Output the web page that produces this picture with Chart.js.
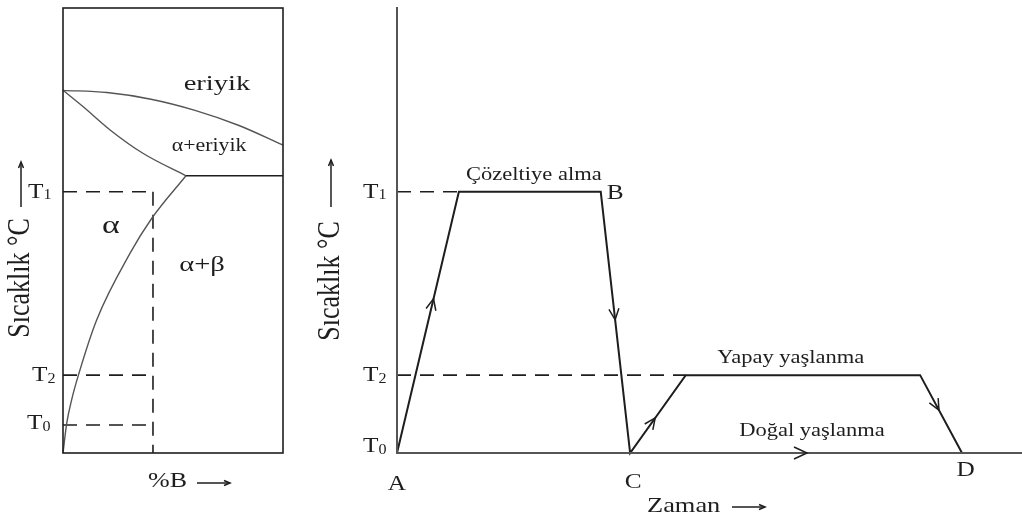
<!DOCTYPE html>
<html>
<head>
<meta charset="utf-8">
<script src="https://cdn.jsdelivr.net/npm/chart.js@4.4.1/dist/chart.umd.min.js"></script>
<style>
body { margin: 0; background: #fff; width: 1022px; height: 519px; overflow: hidden; position: relative; }
canvas { position: absolute; top: 0; }
#faz { left: 0; }
#isil { left: 300px; }
</style>
</head>
<body>
<canvas id="faz" width="300" height="519"></canvas>
<canvas id="isil" width="722" height="519"></canvas>
<script>
// sicaklik seviyeleri (0-100 olcek)
var T1 = 58.7, T2 = 17.5, T0 = 6.3;

// faz diyagrami
var likidus_x = [0, 20, 40, 60, 80, 100];
var likidus_y = [81.5, 81.0, 79.5, 77.0, 73.6, 69.2];
var solidus_x = [0, 9.2, 21.4, 36.5, 55.9];
var solidus_y = [81.5, 77.8, 72.6, 67.3, 62.3];
var solvus_x = [0, 1.7, 3.9, 7.0, 15.3, 30.5, 40.3, 55.9];
var solvus_y = [0, 6.7, 11.9, 17.5, 29.9, 44.9, 52.7, 62.3];
var otektik_x = [55.9, 100];
var otektik_y = [62.3, 62.3];
var alasim_B = 40.9;

var bolge_adlari = ['eriyik', 'α+eriyik', 'α', 'α+β'];
var bolge_x = [70, 66.4, 21.8, 63.2];
var bolge_y = [82.9, 69.0, 51.0, 42.2];

// isil islem
var zaman = [0, 9.9, 32.6, 37.3, 46.2, 83.7, 90.4];
var sicaklik = [0, T1, T1, 0, T2, T2, 0];
var nokta_adlari = ['A', 'B', 'C', 'D'];
var nokta_x = [0, 34.9, 37.8, 91.0];
var nokta_y = [-7.0, 58.4, -6.5, -3.8];
var islem_adlari = ['Çözeltiye alma', 'Yapay yaşlanma', 'Doğal yaşlanma'];
var islem_x = [21.9, 63.0, 66.4];
var islem_y = [62.5, 21.3, 4.9];
var ok_segment = [0, 2, 3, 5];
var ok_oran = [0.59, 0.49, 0.45, 0.45];
var eksen_ok_x = 65.6;

var koyu = '#1e1e1e';

function pts(xs, ys) {
    var r = [];
    for (var i = 0; i < xs.length; i++) r.push({ x: xs[i], y: ys[i] });
    return r;
}

function cizgi(data, renk, kalinlik, kesik, egri) {
    return {
        data: data,
        showLine: true,
        borderColor: renk,
        borderWidth: kalinlik,
        borderDash: kesik || [],
        pointRadius: 0,
        fill: false,
        clip: false,
        cubicInterpolationMode: egri ? 'monotone' : 'default',
        tension: 0
    };
}

function yazi(ctx, txt, x, y, size, sx, align) {
    ctx.save();
    ctx.translate(x, y);
    ctx.scale(sx, 1);
    ctx.font = size + 'px "Liberation Serif"';
    ctx.textAlign = align || 'center';
    ctx.textBaseline = 'middle';
    ctx.fillStyle = koyu;
    ctx.fillText(txt, 0, 0);
    ctx.restore();
}

function tYaz(ctx, alt, x, y, size, sx) {
    ctx.save();
    ctx.font = size + 'px "Liberation Serif"';
    var w = ctx.measureText('T').width * sx;
    ctx.restore();
    yazi(ctx, 'T', x, y, size, sx, 'left');
    yazi(ctx, alt, x + w, y + 4, Math.round(size * 0.62), sx, 'left');
}

function dikBaslik(ctx, txt, x, y, size, sx, okUst, okAlt) {
    ctx.save();
    ctx.translate(x, y);
    ctx.scale(sx, 1);
    ctx.rotate(-Math.PI / 2);
    ctx.font = size + 'px "Liberation Serif"';
    ctx.textAlign = 'center';
    ctx.textBaseline = 'middle';
    ctx.fillStyle = koyu;
    ctx.fillText(txt, 0, 0);
    ctx.restore();
    ctx.save();
    ctx.strokeStyle = koyu;
    ctx.lineWidth = 1.5;
    ctx.beginPath();
    ctx.moveTo(x, okAlt);
    ctx.lineTo(x, okUst);
    ctx.stroke();
    ctx.beginPath();
    ctx.moveTo(x - 2.5, okUst + 6);
    ctx.lineTo(x, okUst);
    ctx.lineTo(x + 2.5, okUst + 6);
    ctx.stroke();
    ctx.restore();
}

function yatayOk(ctx, x1, x2, y) {
    ctx.save();
    ctx.strokeStyle = koyu;
    ctx.lineWidth = 1.5;
    ctx.beginPath();
    ctx.moveTo(x1, y);
    ctx.lineTo(x2, y);
    ctx.stroke();
    ctx.beginPath();
    ctx.moveTo(x2 - 6, y - 2.5);
    ctx.lineTo(x2, y);
    ctx.lineTo(x2 - 6, y + 2.5);
    ctx.stroke();
    ctx.restore();
}

function sevron(ctx, px, py, dx, dy, L, W) {
    var n = Math.sqrt(dx * dx + dy * dy);
    dx /= n; dy /= n;
    ctx.save();
    ctx.strokeStyle = koyu;
    ctx.lineWidth = 1.5;
    ctx.beginPath();
    ctx.moveTo(px - dx * L - dy * W, py - dy * L + dx * W);
    ctx.lineTo(px, py);
    ctx.lineTo(px - dx * L + dy * W, py - dy * L - dx * W);
    ctx.stroke();
    ctx.restore();
}

var olcekler = {
    x: { type: 'linear', min: 0, max: 100, display: false },
    y: { type: 'linear', min: 0, max: 100, display: false }
};

// sol: faz diyagrami
var fazYazilari = {
    id: 'fazYazilari',
    afterDatasetsDraw: function (chart) {
        var ctx = chart.ctx;
        var a = chart.chartArea;
        var sx = chart.scales.x, sy = chart.scales.y;
        ctx.save();
        ctx.strokeStyle = koyu;
        ctx.lineWidth = 1.6;
        ctx.strokeRect(a.left, a.top, a.right - a.left, a.bottom - a.top);
        ctx.restore();
        var boy = [22, 19, 26, 22];
        var gen = [1.3, 1.15, 1.3, 1.3];
        for (var i = 0; i < bolge_adlari.length; i++) {
            yazi(ctx, bolge_adlari[i], sx.getPixelForValue(bolge_x[i]), sy.getPixelForValue(bolge_y[i]), boy[i], gen[i]);
        }
        tYaz(ctx, '1', a.left - 35, sy.getPixelForValue(T1), 22, 1.15);
        tYaz(ctx, '2', a.left - 31, sy.getPixelForValue(T2), 22, 1.15);
        tYaz(ctx, '0', a.left - 36, sy.getPixelForValue(T0) - 2, 22, 1.15);
        dikBaslik(ctx, 'Sıcaklık °C', 21, 278, 26, 1.2, 162, 207);
        yazi(ctx, '%B', 148, 482, 20, 1.3, 'left');
        yatayOk(ctx, 197, 230, 483);
    }
};

new Chart(document.getElementById('faz'), {
    type: 'scatter',
    data: {
        datasets: [
            cizgi(pts(likidus_x, likidus_y), '#555', 1.4, null, true),
            cizgi(pts(solidus_x, solidus_y), '#555', 1.4, null, true),
            cizgi(pts(solvus_x, solvus_y), '#555', 1.4, null, true),
            cizgi(pts(otektik_x, otektik_y), koyu, 1.6),
            cizgi(pts([0, alasim_B], [T1, T1]), koyu, 1.6, [14, 9]),
            cizgi(pts([alasim_B, alasim_B], [T1, 0]), koyu, 1.6, [14, 9]),
            cizgi(pts([0, alasim_B], [T2, T2]), koyu, 1.6, [14, 9]),
            cizgi(pts([0, alasim_B], [T0, T0]), koyu, 1.6, [14, 9])
        ]
    },
    options: {
        responsive: false,
        animation: false,
        layout: { padding: { left: 63, right: 17, top: 8, bottom: 66 } },
        scales: olcekler,
        plugins: { legend: { display: false }, tooltip: { enabled: false } }
    },
    plugins: [fazYazilari]
});

// sag: isil islem
var isilYazilari = {
    id: 'isilYazilari',
    afterDatasetsDraw: function (chart) {
        var ctx = chart.ctx;
        var a = chart.chartArea;
        var sx = chart.scales.x, sy = chart.scales.y;
        ctx.save();
        ctx.strokeStyle = '#555';
        ctx.lineWidth = 2;
        ctx.beginPath();
        ctx.moveTo(a.left, a.top - 1);
        ctx.lineTo(a.left, a.bottom);
        ctx.lineTo(a.right, a.bottom);
        ctx.stroke();
        ctx.restore();
        var ds = chart.getDatasetMeta(0).data;
        for (var i = 0; i < ok_segment.length; i++) {
            var p = ds[ok_segment[i]], q = ds[ok_segment[i] + 1];
            var t = ok_oran[i];
            sevron(ctx, p.x + (q.x - p.x) * t, p.y + (q.y - p.y) * t, q.x - p.x, q.y - p.y, 11, 5);
        }
        sevron(ctx, sx.getPixelForValue(eksen_ok_x), sy.getPixelForValue(0), 1, 0, 13, 6);
        for (var j = 0; j < nokta_adlari.length; j++) {
            yazi(ctx, nokta_adlari[j], sx.getPixelForValue(nokta_x[j]), sy.getPixelForValue(nokta_y[j]), 22, 1.15);
        }
        for (var k = 0; k < islem_adlari.length; k++) {
            yazi(ctx, islem_adlari[k], sx.getPixelForValue(islem_x[k]), sy.getPixelForValue(islem_y[k]), 18, 1.25);
        }
        tYaz(ctx, '1', a.left - 34, sy.getPixelForValue(T1), 22, 1.15);
        tYaz(ctx, '2', a.left - 34, sy.getPixelForValue(T2), 22, 1.15);
        tYaz(ctx, '0', a.left - 34, sy.getPixelForValue(0) - 7, 22, 1.15);
        dikBaslik(ctx, 'Sıcaklık °C', 31, 281, 26, 1.2, 160, 207);
        yazi(ctx, 'Zaman', 347, 506, 22, 1.2, 'left');
        yatayOk(ctx, 432, 465, 507);
    }
};

new Chart(document.getElementById('isil'), {
    type: 'scatter',
    data: {
        datasets: [
            cizgi(pts(zaman, sicaklik), koyu, 2),
            cizgi(pts([0, zaman[1]], [T1, T1]), koyu, 1.6, [14, 9]),
            cizgi(pts([0, zaman[4]], [T2, T2]), koyu, 1.6, [14, 9])
        ]
    },
    options: {
        responsive: false,
        animation: false,
        layout: { padding: { left: 97, right: 0, top: 8, bottom: 66 } },
        scales: olcekler,
        plugins: { legend: { display: false }, tooltip: { enabled: false } }
    },
    plugins: [isilYazilari]
});
</script>
</body>
</html>
